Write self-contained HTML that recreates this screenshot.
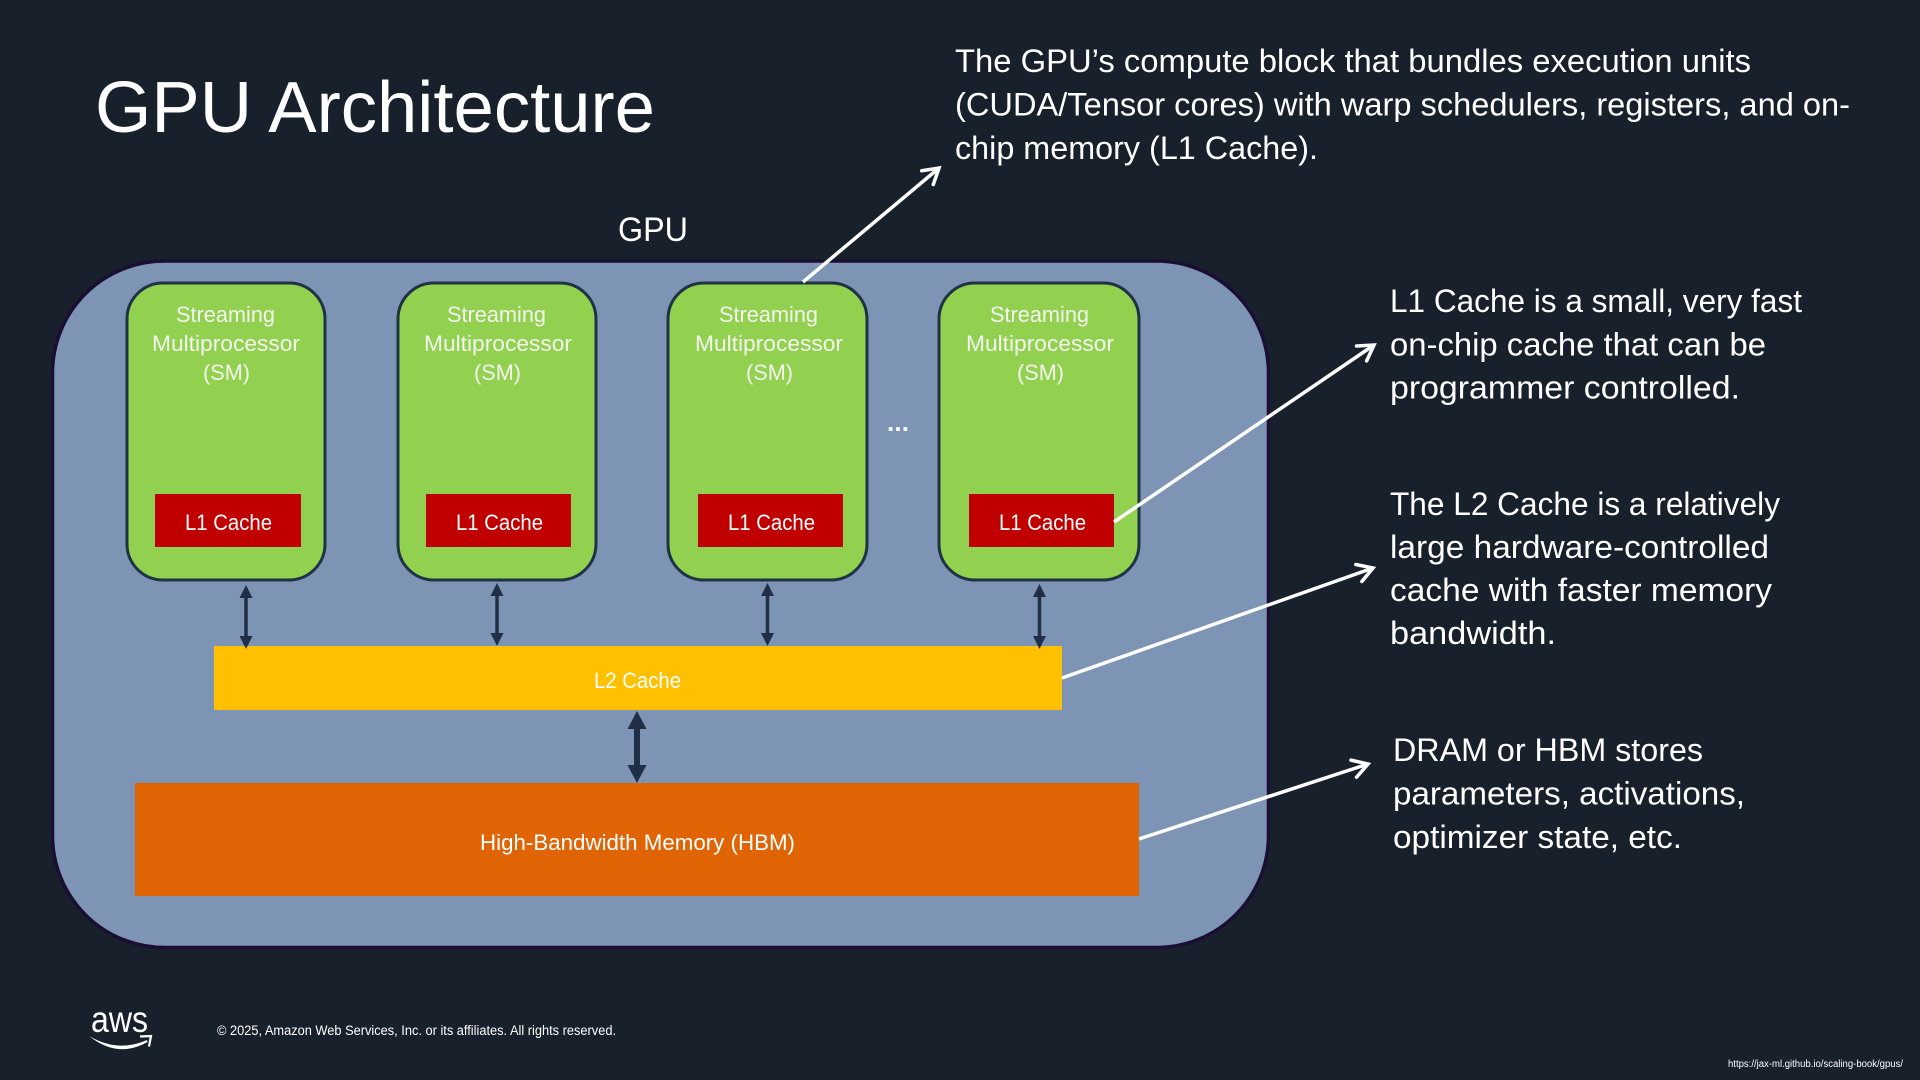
<!DOCTYPE html>
<html><head><meta charset="utf-8"><title>GPU Architecture</title>
<style>
html,body{margin:0;padding:0;background:#18202b;width:1920px;height:1080px;overflow:hidden}
svg{display:block}
text{font-family:"Liberation Sans",sans-serif;fill:#fff}
.c{font-size:32px}
.s{font-size:22.5px;fill:#f4f7ee}
</style></head>
<body>
<svg width="1920" height="1080" viewBox="0 0 1920 1080" xmlns="http://www.w3.org/2000/svg">
<defs>
<marker id="open" markerUnits="userSpaceOnUse" markerWidth="40" markerHeight="40" refX="30" refY="20" orient="auto" overflow="visible">
<path d="M15,11 L30,20 L15,29" fill="none" stroke="#fff" stroke-width="3.5" stroke-linecap="round" stroke-linejoin="miter"/>
</marker>
<marker id="tri" markerUnits="userSpaceOnUse" markerWidth="16" markerHeight="16" refX="1" refY="6.500" orient="auto-start-reverse" overflow="visible">
<path d="M0,0 L13,6.500 L0,13 Z" fill="#202f45"/>
</marker>
<marker id="triB" markerUnits="userSpaceOnUse" markerWidth="22" markerHeight="22" refX="1" refY="9.500" orient="auto-start-reverse" overflow="visible">
<path d="M0,0 L18,9.500 L0,19 Z" fill="#202f45"/>
</marker>
</defs>
<rect width="1920" height="1080" fill="#18202b"/>

<text x="95" y="132" font-size="72" textLength="560" lengthAdjust="spacingAndGlyphs">GPU Architecture</text>
<text x="618" y="241" font-size="34" textLength="70" lengthAdjust="spacingAndGlyphs">GPU</text>

<rect x="52.500" y="261" width="1216" height="686.500" rx="112" ry="112" fill="#7e94b5" stroke="#1a0f33" stroke-width="3.500"/>

<g fill="#92d050" stroke="#1f3345" stroke-width="3">
<rect x="127" y="283" width="198" height="297" rx="36"/>
<rect x="398" y="283" width="198" height="297" rx="36"/>
<rect x="668" y="283" width="199" height="297" rx="36"/>
<rect x="939" y="283" width="200" height="297" rx="36"/>
</g>
<g fill="#c00000">
<rect x="155" y="494" width="146" height="53"/>
<rect x="426" y="494" width="145" height="53"/>
<rect x="698" y="494" width="145" height="53"/>
<rect x="969" y="494" width="145" height="53"/>
</g>

<text class="s" x="176" y="322" textLength="99" lengthAdjust="spacingAndGlyphs">Streaming</text>
<text class="s" x="152" y="351" textLength="148" lengthAdjust="spacingAndGlyphs">Multiprocessor</text>
<text class="s" x="203" y="380" textLength="47" lengthAdjust="spacingAndGlyphs">(SM)</text>
<text class="s" x="447" y="322" textLength="99" lengthAdjust="spacingAndGlyphs">Streaming</text>
<text class="s" x="424" y="351" textLength="148" lengthAdjust="spacingAndGlyphs">Multiprocessor</text>
<text class="s" x="474" y="380" textLength="47" lengthAdjust="spacingAndGlyphs">(SM)</text>
<text class="s" x="719" y="322" textLength="99" lengthAdjust="spacingAndGlyphs">Streaming</text>
<text class="s" x="695" y="351" textLength="148" lengthAdjust="spacingAndGlyphs">Multiprocessor</text>
<text class="s" x="746" y="380" textLength="47" lengthAdjust="spacingAndGlyphs">(SM)</text>
<text class="s" x="990" y="322" textLength="99" lengthAdjust="spacingAndGlyphs">Streaming</text>
<text class="s" x="966" y="351" textLength="148" lengthAdjust="spacingAndGlyphs">Multiprocessor</text>
<text class="s" x="1017" y="380" textLength="47" lengthAdjust="spacingAndGlyphs">(SM)</text>

<text class="s" x="185" y="530" textLength="87" lengthAdjust="spacingAndGlyphs" style="fill:#fff">L1 Cache</text>
<text class="s" x="456" y="530" textLength="87" lengthAdjust="spacingAndGlyphs" style="fill:#fff">L1 Cache</text>
<text class="s" x="728" y="530" textLength="87" lengthAdjust="spacingAndGlyphs" style="fill:#fff">L1 Cache</text>
<text class="s" x="999" y="530" textLength="87" lengthAdjust="spacingAndGlyphs" style="fill:#fff">L1 Cache</text>

<text x="887" y="431" font-size="26" font-weight="bold" textLength="22" lengthAdjust="spacing">...</text>

<rect x="214" y="646" width="848" height="64" fill="#ffc000"/>
<text class="s" x="594" y="688" textLength="87" lengthAdjust="spacingAndGlyphs" style="fill:#fff">L2 Cache</text>
<rect x="135" y="783" width="1004" height="113" fill="#e06304"/>
<text class="s" x="480" y="850" textLength="315" lengthAdjust="spacingAndGlyphs" style="fill:#fff">High-Bandwidth Memory (HBM)</text>

<g stroke="#202f45" stroke-width="3.500" fill="none">
<line x1="246" y1="597" x2="246" y2="637" marker-start="url(#tri)" marker-end="url(#tri)"/>
<line x1="497" y1="595" x2="497" y2="634" marker-start="url(#tri)" marker-end="url(#tri)"/>
<line x1="767.500" y1="595" x2="767.500" y2="634" marker-start="url(#tri)" marker-end="url(#tri)"/>
<line x1="1039.500" y1="596" x2="1039.500" y2="637" marker-start="url(#tri)" marker-end="url(#tri)"/>
</g>
<line x1="637" y1="728" x2="637" y2="766" stroke="#202f45" stroke-width="6" marker-start="url(#triB)" marker-end="url(#triB)"/>

<g stroke="#fff" stroke-width="3.500" fill="none">
<line x1="803" y1="282" x2="939" y2="168" marker-end="url(#open)"/>
<line x1="1114" y1="522" x2="1374" y2="345" marker-end="url(#open)"/>
<line x1="1062" y1="678" x2="1373" y2="568" marker-end="url(#open)"/>
<line x1="1139" y1="839" x2="1368" y2="764" marker-end="url(#open)"/>
</g>

<text class="c" x="955" y="72" textLength="796" lengthAdjust="spacingAndGlyphs">The GPU’s compute block that bundles execution units</text>
<text class="c" x="955" y="115.500" textLength="895" lengthAdjust="spacingAndGlyphs">(CUDA/Tensor cores) with warp schedulers, registers, and on-</text>
<text class="c" x="955" y="159" textLength="363" lengthAdjust="spacingAndGlyphs">chip memory (L1 Cache).</text>

<text class="c" x="1390" y="312" textLength="412" lengthAdjust="spacingAndGlyphs">L1 Cache is a small, very fast</text>
<text class="c" x="1390" y="355.500" textLength="376" lengthAdjust="spacingAndGlyphs">on-chip cache that can be</text>
<text class="c" x="1390" y="398.500" textLength="350" lengthAdjust="spacingAndGlyphs">programmer controlled.</text>

<text class="c" x="1390" y="515" textLength="390" lengthAdjust="spacingAndGlyphs">The L2 Cache is a relatively</text>
<text class="c" x="1390" y="558" textLength="379" lengthAdjust="spacingAndGlyphs">large hardware-controlled</text>
<text class="c" x="1390" y="601" textLength="382" lengthAdjust="spacingAndGlyphs">cache with faster memory</text>
<text class="c" x="1390" y="644" textLength="166" lengthAdjust="spacingAndGlyphs">bandwidth.</text>

<text class="c" x="1393" y="761" textLength="310" lengthAdjust="spacingAndGlyphs">DRAM or HBM stores</text>
<text class="c" x="1393" y="804.500" textLength="352" lengthAdjust="spacingAndGlyphs">parameters, activations,</text>
<text class="c" x="1393" y="848" textLength="289" lengthAdjust="spacingAndGlyphs">optimizer state, etc.</text>

<text x="91" y="1032" font-size="37" textLength="57" lengthAdjust="spacingAndGlyphs">aws</text>
<path d="M89,1036 Q118,1053 147,1040 L147.500,1042 Q118,1059 89,1036Z" fill="#fff"/>
<path d="M140,1036.500 L151,1036 L149,1046.500" fill="none" stroke="#fff" stroke-width="2.200"/>

<text x="217" y="1035" font-size="13.500" textLength="399" lengthAdjust="spacingAndGlyphs">© 2025, Amazon Web Services, Inc. or its affiliates. All rights reserved.</text>
<text x="1728" y="1067" font-size="10" textLength="175" lengthAdjust="spacingAndGlyphs">https://jax-ml.github.io/scaling-book/gpus/</text>
</svg>
</body></html>
